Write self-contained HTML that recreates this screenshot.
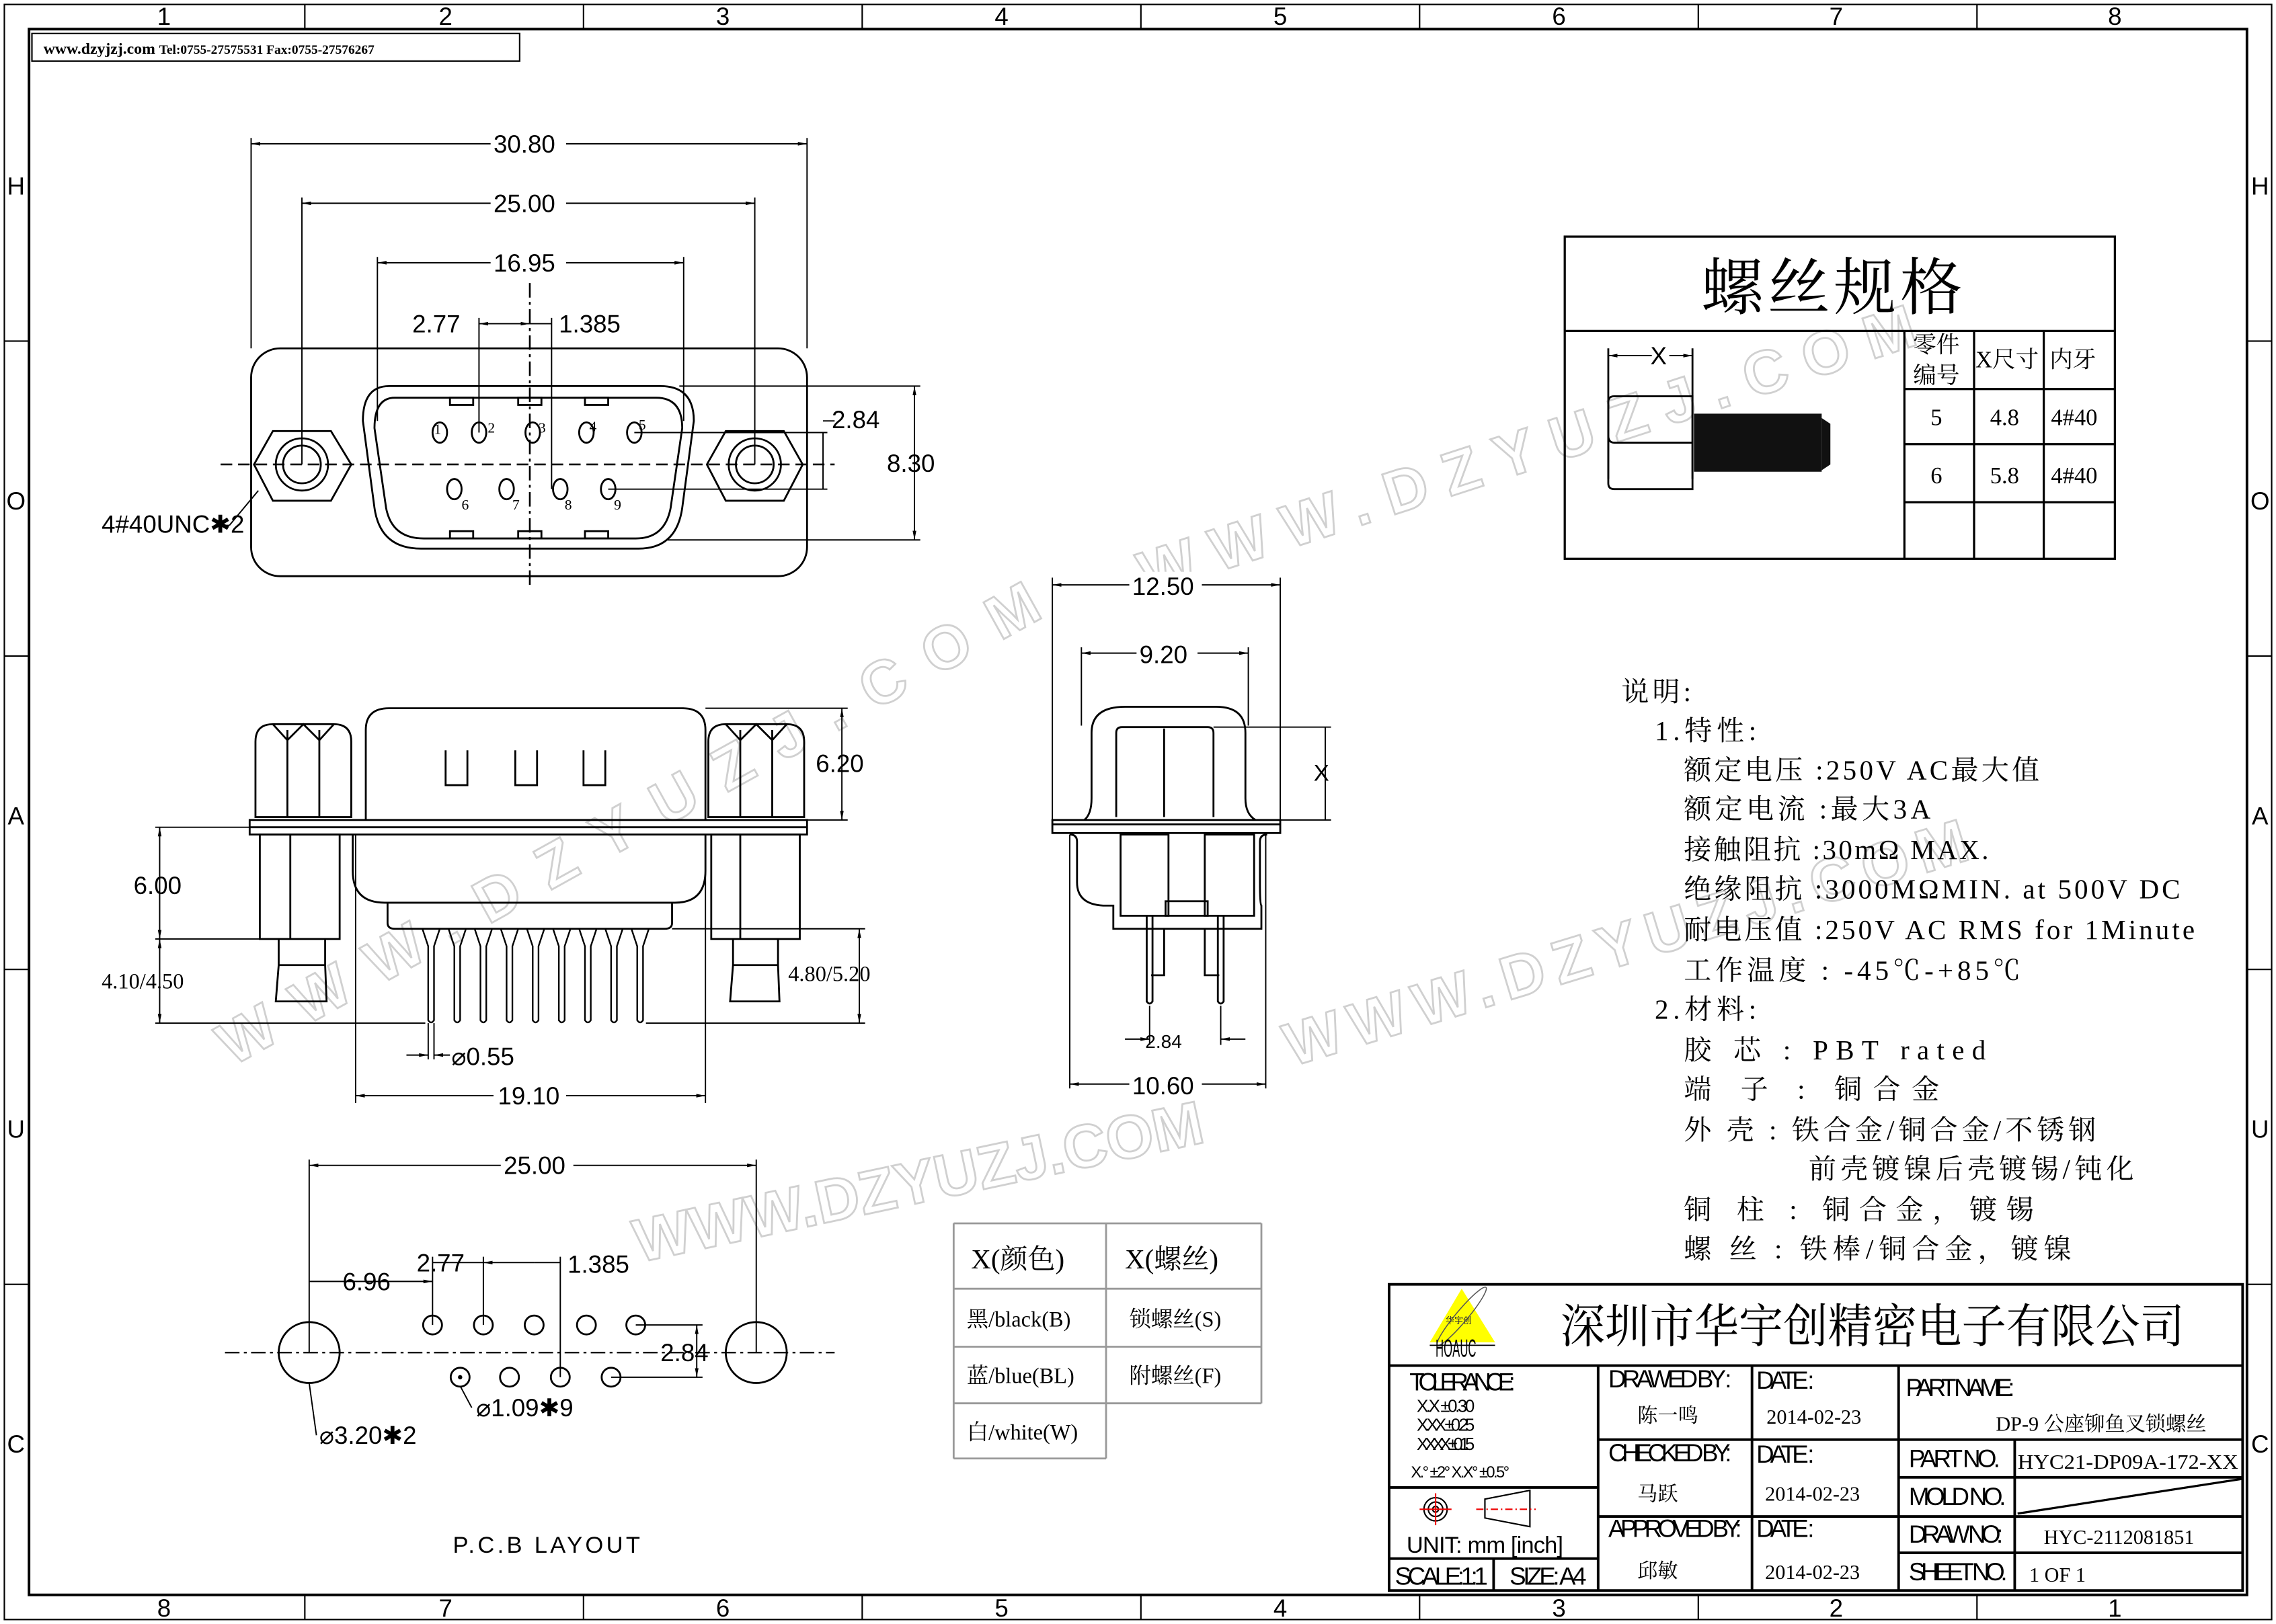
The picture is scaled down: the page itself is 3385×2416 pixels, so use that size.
<!DOCTYPE html>
<html><head><meta charset="utf-8"><style>
html,body{margin:0;padding:0;background:#fff}
svg{display:block}
.d{font-family:"Liberation Sans","DejaVu Sans",sans-serif;font-size:17px;fill:#000}
.s{font-family:"Liberation Serif","Noto Serif CJK SC",serif;fill:#000}
.c{font-family:"Liberation Serif","Noto Serif CJK SC",serif;fill:#000}
</style></head><body>
<svg width="3385" height="2416" viewBox="0 0 1568 1119" xmlns="http://www.w3.org/2000/svg">
<defs>
<marker id="a" viewBox="0 0 10 10" refX="10" refY="5" markerWidth="7" markerHeight="7" orient="auto-start-reverse"><path d="M0,3 L10,5 L0,7z" fill="#000"/></marker>
</defs>
<rect width="1568" height="1119" fill="#fff"/>
<!-- watermarks -->
<g font-family="Liberation Sans,sans-serif" font-size="42" font-weight="bold" fill="none" stroke="#d0d0d0" stroke-width="1.3" lengthAdjust="spacingAndGlyphs">
<text transform="translate(160,735) rotate(-29)" textLength="640">WWW.DZYUZJ.COM</text>
<text transform="translate(440,870) rotate(-12)" textLength="400">WWW.DZYUZJ.COM</text>
<text transform="translate(890,735) rotate(-17)" textLength="490">WWW.DZYUZJ.COM</text>
<text transform="translate(790,410) rotate(-18)" textLength="560">WWW.DZYUZJ.COM</text>
</g>
<!-- frame -->
<g fill="none" stroke="#000">
<rect x="3" y="3" width="1562" height="1113" stroke-width="1"/>
<rect x="20" y="20" width="1528" height="1079" stroke-width="1.8"/>
</g>
<g stroke="#000" stroke-width="1">
<line x1="210" y1="3" x2="210" y2="20"/><line x1="402" y1="3" x2="402" y2="20"/><line x1="594" y1="3" x2="594" y2="20"/><line x1="786" y1="3" x2="786" y2="20"/><line x1="978" y1="3" x2="978" y2="20"/><line x1="1170" y1="3" x2="1170" y2="20"/><line x1="1362" y1="3" x2="1362" y2="20"/>
<line x1="210" y1="1099" x2="210" y2="1116"/><line x1="402" y1="1099" x2="402" y2="1116"/><line x1="594" y1="1099" x2="594" y2="1116"/><line x1="786" y1="1099" x2="786" y2="1116"/><line x1="978" y1="1099" x2="978" y2="1116"/><line x1="1170" y1="1099" x2="1170" y2="1116"/><line x1="1362" y1="1099" x2="1362" y2="1116"/>
<line x1="3" y1="235" x2="20" y2="235"/><line x1="3" y1="452" x2="20" y2="452"/><line x1="3" y1="668" x2="20" y2="668"/><line x1="3" y1="885" x2="20" y2="885"/>
<line x1="1548" y1="235" x2="1565" y2="235"/><line x1="1548" y1="452" x2="1565" y2="452"/><line x1="1548" y1="668" x2="1565" y2="668"/><line x1="1548" y1="885" x2="1565" y2="885"/>
</g>
<g class="d" font-size="15" text-anchor="middle">
<text x="113" y="17">1</text><text x="307" y="17">2</text><text x="498" y="17">3</text><text x="690" y="17">4</text><text x="882" y="17">5</text><text x="1074" y="17">6</text><text x="1265" y="17">7</text><text x="1457" y="17">8</text>
<text x="113" y="1114">8</text><text x="307" y="1114">7</text><text x="498" y="1114">6</text><text x="690" y="1114">5</text><text x="882" y="1114">4</text><text x="1074" y="1114">3</text><text x="1265" y="1114">2</text><text x="1457" y="1114">1</text>
<text x="11" y="134">H</text><text x="11" y="351">O</text><text x="11" y="568">A</text><text x="11" y="784">U</text><text x="11" y="1001">C</text>
<text x="1557" y="134">H</text><text x="1557" y="351">O</text><text x="1557" y="568">A</text><text x="1557" y="784">U</text><text x="1557" y="1001">C</text>
</g>
<rect x="22" y="23" width="336" height="19" fill="none" stroke="#000"/>
<text class="s" x="30" y="37" font-size="11" font-weight="bold">www.dzyjzj.com <tspan font-size="9">Tel:0755-27575531  Fax:0755-27576267</tspan></text>

<!-- TOP VIEW -->
<g fill="none" stroke="#000" stroke-width="1.3">
<rect x="173" y="240" width="383" height="157" rx="20"/>
<path d="M268,266 L455,266 Q478,266 478,290 L470,350 Q466,378 440,378 L290,378 Q262,378 258,350 L250,290 Q250,266 268,266z"/>
<path d="M272,274 L452,274 Q470,274 470,295 L462,350 Q458,371 438,371 L292,371 Q270,371 266,350 L258,295 Q258,274 272,274z"/>
<polygon points="188,297 228,297 242,320 228,345 188,345 175,320"/>
<polygon points="500,297 540,297 553,320 540,345 500,345 487,320"/>
<circle cx="208" cy="320" r="18"/><circle cx="208" cy="320" r="13"/>
<circle cx="520" cy="320" r="18"/><circle cx="520" cy="320" r="13"/>
<ellipse cx="303" cy="298" rx="5" ry="7"/><ellipse cx="330" cy="298" rx="5" ry="7"/><ellipse cx="367" cy="298" rx="5" ry="7"/><ellipse cx="404" cy="298" rx="5" ry="7"/><ellipse cx="437" cy="298" rx="5" ry="7"/>
<ellipse cx="313" cy="337" rx="5" ry="7"/><ellipse cx="349" cy="337" rx="5" ry="7"/><ellipse cx="386" cy="337" rx="5" ry="7"/><ellipse cx="419" cy="337" rx="5" ry="7"/>
<rect x="310" y="274" width="16" height="5"/><rect x="357" y="274" width="16" height="5"/><rect x="403" y="274" width="16" height="5"/>
<rect x="310" y="366" width="16" height="5"/><rect x="357" y="366" width="16" height="5"/><rect x="403" y="366" width="16" height="5"/>
</g>
<g fill="none" stroke="#000" stroke-width="1.2" stroke-dasharray="8,4">
<line x1="152" y1="320" x2="575" y2="320"/>
<line x1="365" y1="195" x2="365" y2="405" stroke-dasharray="10,3,2,3"/>
</g>
<g stroke="#000" stroke-width="0.9" fill="none">
<line x1="173" y1="95" x2="173" y2="240"/><line x1="556" y1="95" x2="556" y2="240"/>
<line x1="173" y1="99" x2="556" y2="99" marker-start="url(#a)" marker-end="url(#a)"/>
<line x1="208" y1="136" x2="208" y2="320"/><line x1="520" y1="136" x2="520" y2="320"/>
<line x1="208" y1="140" x2="520" y2="140" marker-start="url(#a)" marker-end="url(#a)"/>
<line x1="260" y1="177" x2="260" y2="290"/><line x1="471" y1="177" x2="471" y2="290"/>
<line x1="260" y1="181" x2="471" y2="181" marker-start="url(#a)" marker-end="url(#a)"/>
<line x1="330" y1="219" x2="330" y2="298"/><line x1="380" y1="219" x2="380" y2="337"/>
<line x1="330" y1="223" x2="365" y2="223" marker-start="url(#a)" marker-end="url(#a)"/>
<line x1="365" y1="223" x2="380" y2="223"/>
<line x1="437" y1="298" x2="570" y2="298"/><line x1="419" y1="337" x2="570" y2="337"/>
<line x1="567" y1="298" x2="567" y2="337"/><line x1="567" y1="290" x2="575" y2="290"/>
<line x1="468" y1="266" x2="634" y2="266"/><line x1="460" y1="372" x2="634" y2="372"/>
<line x1="630" y1="266" x2="630" y2="372" marker-start="url(#a)" marker-end="url(#a)"/>
<line x1="178" y1="338" x2="158" y2="362"/><line x1="158" y1="362" x2="150" y2="362"/>
</g>
<g class="d">
<rect x="338" y="90" width="52" height="16" fill="#fff"/><text x="340" y="105">30.80</text>
<rect x="338" y="131" width="52" height="16" fill="#fff"/><text x="340" y="146">25.00</text>
<rect x="338" y="172" width="52" height="16" fill="#fff"/><text x="340" y="187">16.95</text>
<text x="284" y="229">2.77</text><text x="385" y="229">1.385</text>
<text x="573" y="295">2.84</text>
<text x="611" y="325">8.30</text>
<text x="70" y="367">4#40UNC✱2</text>
</g>
<g class="s" font-size="10"><text x="299" y="299">1</text><text x="336" y="298">2</text><text x="371" y="298">3</text><text x="406" y="297">4</text><text x="440" y="296">5</text>
<text x="318" y="351">6</text><text x="353" y="351">7</text><text x="389" y="351">8</text><text x="423" y="351">9</text></g>

<!-- SIDE VIEW -->
<g fill="none" stroke="#000" stroke-width="1.3">
<path d="M252,565 L252,503 Q252,488 268,488 L470,488 Q486,488 486,503 L486,565"/>
<path d="M176,563 L176,511 Q176,499 188,499 L230,499 Q242,499 242,511 L242,563z"/>
<line x1="198" y1="503" x2="198" y2="563"/><line x1="220" y1="503" x2="220" y2="563"/>
<path d="M188,499 L198,510 L209,499 L220,510 L230,499"/>
<path d="M488,563 L488,511 Q488,499 500,499 L542,499 Q554,499 554,511 L554,563z"/>
<line x1="510" y1="503" x2="510" y2="563"/><line x1="532" y1="503" x2="532" y2="563"/>
<path d="M500,499 L510,510 L521,499 L532,510 L542,499"/>
<path d="M307,517 L307,541 L322,541 L322,517 M355,517 L355,541 L370,541 L370,517 M402,517 L402,541 L417,541 L417,517"/>
<rect x="172" y="565" width="384" height="10"/><line x1="172" y1="570" x2="556" y2="570"/>
<rect x="179" y="575" width="55" height="72"/><line x1="200" y1="575" x2="200" y2="647"/>
<rect x="490" y="575" width="61" height="72"/><line x1="510" y1="575" x2="510" y2="647"/>
<path d="M243,575 L243,600 Q243,622 265,622 L465,622 Q486,622 486,600 L486,575"/>
<path d="M267,622 L267,636 Q267,640 272,640 L458,640 Q463,640 463,636 L463,622"/>
<path d="M192,647 L192,665 L190,690 L225,690 L224,665 L224,647 M192,665 L224,665"/>
<path d="M505,647 L505,665 L503,690 L537,690 L536,665 L536,647 M505,665 L536,665"/>
</g>
<g fill="none" stroke="#000" stroke-width="1.1">
<path d="M291,640 L295,652 L295,703 Q297,706 299,703 L299,652 L303,640 M309,640 L313,652 L313,703 Q315,706 317,703 L317,652 L321,640 M327,640 L331,652 L331,703 Q333,706 335,703 L335,652 L339,640 M345,640 L349,652 L349,703 Q351,706 353,703 L353,652 L357,640 M363,640 L367,652 L367,703 Q369,706 371,703 L371,652 L375,640 M381,640 L385,652 L385,703 Q387,706 389,703 L389,652 L393,640 M399,640 L403,652 L403,703 Q405,706 407,703 L407,652 L411,640 M417,640 L421,652 L421,703 Q423,706 425,703 L425,652 L429,640 M435,640 L439,652 L439,703 Q441,706 443,703 L443,652 L447,640"/>
</g>
<g stroke="#000" stroke-width="0.9" fill="none">
<line x1="107" y1="570" x2="179" y2="570"/><line x1="107" y1="647" x2="179" y2="647"/><line x1="107" y1="705" x2="293" y2="705"/>
<line x1="110" y1="570" x2="110" y2="647" marker-start="url(#a)" marker-end="url(#a)"/>
<line x1="110" y1="647" x2="110" y2="705" marker-start="url(#a)" marker-end="url(#a)"/>
<line x1="486" y1="488" x2="584" y2="488"/><line x1="556" y1="565" x2="584" y2="565"/>
<line x1="580" y1="488" x2="580" y2="565" marker-start="url(#a)" marker-end="url(#a)"/>
<line x1="463" y1="640" x2="596" y2="640"/><line x1="445" y1="705" x2="596" y2="705"/>
<line x1="592" y1="640" x2="592" y2="705" marker-start="url(#a)" marker-end="url(#a)"/>
<line x1="245" y1="575" x2="245" y2="760"/><line x1="486" y1="575" x2="486" y2="760"/>
<line x1="245" y1="755" x2="486" y2="755" marker-start="url(#a)" marker-end="url(#a)"/>
<line x1="295" y1="705" x2="295" y2="730"/><line x1="299" y1="705" x2="299" y2="730"/>
<line x1="280" y1="727" x2="295" y2="727" marker-end="url(#a)"/><line x1="310" y1="727" x2="299" y2="727" marker-end="url(#a)"/>
</g>
<g class="d">
<text x="562" y="532">6.20</text>
<text x="92" y="616">6.00</text>
<text x="311" y="734">⌀0.55</text>
<rect x="340" y="746" width="50" height="16" fill="#fff"/><text x="343" y="761">19.10</text>
</g>
<text class="s" x="70" y="681" font-size="15">4.10/4.50</text>
<text class="s" x="543" y="676" font-size="15">4.80/5.20</text>

<!-- MIDDLE SIDE VIEW -->
<g fill="none" stroke="#000" stroke-width="1.3">
<path d="M747,565 Q752,561 752,550 L752,505 Q752,487 775,487 L838,487 Q858,487 858,505 L858,550 Q858,561 865,565"/>
<path d="M769,563 L769,505 Q769,501 773,501 L832,501 Q836,501 836,505 L836,563 M802,502 L802,563"/>
<rect x="725" y="565" width="157" height="9"/><line x1="725" y1="568" x2="882" y2="568"/>
<path d="M737,575 Q742,575 742,580 L742,608 Q742,623 760,624 L767,624 L767,640 L869,640 L869,624 Q868,623 868,608 L868,580 Q868,575 873,575"/>
<rect x="772" y="575" width="33" height="56"/><rect x="830" y="575" width="34" height="56"/>
<rect x="803" y="621" width="29" height="10"/>
<path d="M790,631 L790,690 Q792,693 794,690 L794,631 M802,640 L802,672 L793,672 M839,631 L839,690 Q841,693 843,690 L843,631 M830,640 L830,672 L840,672"/>
</g>
<g stroke="#000" stroke-width="0.9" fill="none">
<line x1="725" y1="398" x2="725" y2="565"/><line x1="882" y1="398" x2="882" y2="565"/>
<line x1="725" y1="403" x2="882" y2="403" marker-start="url(#a)" marker-end="url(#a)"/>
<line x1="745" y1="446" x2="745" y2="500"/><line x1="860" y1="446" x2="860" y2="500"/>
<line x1="745" y1="450" x2="860" y2="450" marker-start="url(#a)" marker-end="url(#a)"/>
<line x1="836" y1="501" x2="917" y2="501"/><line x1="858" y1="565" x2="917" y2="565"/>
<line x1="913" y1="501" x2="913" y2="565"/>
<line x1="792" y1="693" x2="792" y2="720"/><line x1="841" y1="693" x2="841" y2="720"/>
<line x1="775" y1="716" x2="792" y2="716" marker-end="url(#a)"/><line x1="858" y1="716" x2="841" y2="716" marker-end="url(#a)"/>
<line x1="737" y1="575" x2="737" y2="750"/><line x1="872" y1="575" x2="872" y2="750"/>
<line x1="737" y1="747" x2="872" y2="747" marker-start="url(#a)" marker-end="url(#a)"/>
</g>
<g class="d">
<rect x="778" y="394" width="50" height="16" fill="#fff"/><text x="780" y="410">12.50</text>
<rect x="783" y="441" width="42" height="16" fill="#fff"/><text x="785" y="457">9.20</text>
<text x="789" y="722" font-size="13">2.84</text>
<rect x="778" y="738" width="50" height="16" fill="#fff"/><text x="780" y="754">10.60</text>
<text x="905" y="538" font-size="16">X</text>
</g>

<!-- PCB LAYOUT -->
<g fill="none" stroke="#000" stroke-width="1.3">
<circle cx="213" cy="932" r="21"/><circle cx="521" cy="932" r="21"/>
<circle cx="298" cy="913" r="6.5"/><circle cx="333" cy="913" r="6.5"/><circle cx="368" cy="913" r="6.5"/><circle cx="404" cy="913" r="6.5"/><circle cx="438" cy="913" r="6.5"/>
<circle cx="317" cy="949" r="6.5"/><circle cx="351" cy="949" r="6.5"/><circle cx="386" cy="949" r="6.5"/><circle cx="421" cy="949" r="6.5"/>
</g>
<circle cx="317" cy="949" r="1.5" fill="#000"/>
<line x1="155" y1="932" x2="575" y2="932" stroke="#000" stroke-width="1.1" stroke-dasharray="10,3,2,3"/>
<g stroke="#000" stroke-width="0.9" fill="none">
<line x1="213" y1="799" x2="213" y2="932"/><line x1="521" y1="799" x2="521" y2="932"/>
<line x1="213" y1="803" x2="521" y2="803" marker-start="url(#a)" marker-end="url(#a)"/>
<line x1="298" y1="866" x2="298" y2="913"/><line x1="333" y1="866" x2="333" y2="913"/><line x1="386" y1="866" x2="386" y2="949"/>
<line x1="213" y1="883" x2="298" y2="883" marker-end="url(#a)"/>
<line x1="333" y1="870" x2="368" y2="870" marker-start="url(#a)"/><line x1="368" y1="870" x2="386" y2="870"/>
<line x1="298" y1="870" x2="333" y2="870"/>
<line x1="438" y1="913" x2="484" y2="913"/><line x1="421" y1="949" x2="484" y2="949"/>
<line x1="480" y1="913" x2="480" y2="949" marker-start="url(#a)" marker-end="url(#a)"/>
<line x1="317" y1="955" x2="325" y2="970"/><line x1="213" y1="953" x2="218" y2="989"/>
</g>
<g class="d">
<rect x="345" y="794" width="50" height="16" fill="#fff"/><text x="347" y="809">25.00</text>
<text x="236" y="889">6.96</text>
<text x="287" y="876">2.77</text><text x="391" y="877">1.385</text>
<text x="455" y="938">2.84</text>
<text x="328" y="976">⌀1.09✱9</text>
<text x="220" y="995">⌀3.20✱2</text>
<text x="312" y="1070" font-size="16" letter-spacing="2">P.C.B LAYOUT</text>
</g>

<!-- SCREW TABLE -->
<g fill="none" stroke="#000" stroke-width="1.5">
<rect x="1078" y="163" width="379" height="222"/>
<line x1="1078" y1="228" x2="1457" y2="228"/>
<line x1="1312" y1="228" x2="1312" y2="385"/><line x1="1360" y1="228" x2="1360" y2="385"/><line x1="1408" y1="228" x2="1408" y2="385"/>
<line x1="1312" y1="268" x2="1457" y2="268"/><line x1="1312" y1="306" x2="1457" y2="306"/><line x1="1312" y1="346" x2="1457" y2="346"/>
</g>
<text class="c" x="1172" y="213" font-size="43" textLength="180">螺丝规格</text>
<g class="c" font-size="16">
<text x="1318" y="243">零件</text><text x="1318" y="264">编号</text>
<text x="1361" y="253">X尺寸</text><text x="1412" y="253">内牙</text>
<text x="1330" y="293">5</text><text x="1371" y="293">4.8</text><text x="1413" y="293">4#40</text>
<text x="1330" y="333">6</text><text x="1371" y="333">5.8</text><text x="1413" y="333">4#40</text>
</g>
<g fill="none" stroke="#000" stroke-width="1.3">
<line x1="1108" y1="240" x2="1108" y2="330"/><line x1="1166" y1="240" x2="1166" y2="330"/>
<line x1="1108" y1="245" x2="1166" y2="245" stroke-width="0.9" marker-start="url(#a)" marker-end="url(#a)"/>
<path d="M1112,273 L1166,273 L1166,337 L1112,337 Q1108,337 1108,333 L1108,277 Q1108,273 1112,273z"/>
<path d="M1166,305 L1112,305 Q1108,305 1108,300"/>
</g>
<rect x="1138" y="238" width="12" height="14" fill="#fff"/>
<text class="d" x="1137" y="251" font-size="16">X</text>
<rect x="1167" y="285" width="88" height="40" fill="#111"/>
<path d="M1255,288 L1261,292 L1261,320 L1255,324z" fill="#111"/>

<!-- NOTES -->
<g class="c" font-size="19" lengthAdjust="spacing">
<text x="1117" y="483" textLength="48">说明:</text>
<text x="1140" y="510" textLength="70">1.特性:</text>
<text x="1160" y="537" textLength="245">额定电压 :250V AC最大值</text>
<text x="1160" y="564" textLength="170">额定电流 :最大3A</text>
<text x="1160" y="592" textLength="210">接触阻抗 :30mΩ MAX.</text>
<text x="1160" y="619" textLength="342">绝缘阻抗 :3000MΩMIN. at 500V DC</text>
<text x="1160" y="647" textLength="352">耐电压值 :250V AC RMS for 1Minute</text>
<text x="1160" y="675" textLength="232">工作温度 : -45℃-+85℃</text>
<text x="1140" y="702" textLength="70">2.材料:</text>
<text x="1160" y="730" textLength="208">胶 芯 : PBT rated</text>
<text x="1160" y="757" textLength="176">端 子 : 铜合金</text>
<text x="1160" y="785" textLength="284">外 壳 : 铁合金/铜合金/不锈钢</text>
<text x="1246" y="812" textLength="224">前壳镀镍后壳镀锡/钝化</text>
<text x="1160" y="840" textLength="241">铜 柱 : 铜合金，镀锡</text>
<text x="1160" y="867" textLength="267">螺 丝 : 铁棒/铜合金，镀镍</text>
</g>

<!-- COLOR TABLE -->
<g fill="none" stroke="#999" stroke-width="1.3">
<line x1="657" y1="843" x2="869" y2="843"/><line x1="657" y1="888" x2="869" y2="888"/><line x1="657" y1="928" x2="869" y2="928"/><line x1="657" y1="967" x2="869" y2="967"/><line x1="657" y1="1005" x2="762" y2="1005"/>
<line x1="657" y1="843" x2="657" y2="1005"/><line x1="762" y1="843" x2="762" y2="1005"/><line x1="869" y1="843" x2="869" y2="967"/>
</g>
<g class="c" fill="#333">
<text x="669" y="874" font-size="19">X(颜色)</text><text x="775" y="874" font-size="19">X(螺丝)</text>
<text x="666" y="914" font-size="15">黑/black(B)</text><text x="778" y="914" font-size="15">锁螺丝(S)</text>
<text x="666" y="953" font-size="15">蓝/blue(BL)</text><text x="778" y="953" font-size="15">附螺丝(F)</text>
<text x="666" y="992" font-size="15">白/white(W)</text>
</g>

<!-- TITLE BLOCK -->
<g fill="none" stroke="#000" stroke-width="1.8">
<rect x="957" y="885" width="588" height="211"/>
<line x1="957" y1="941" x2="1545" y2="941"/>
<line x1="1101" y1="941" x2="1101" y2="1096"/><line x1="1207" y1="941" x2="1207" y2="1096"/><line x1="1308" y1="941" x2="1308" y2="1096"/>
<line x1="1388" y1="992" x2="1388" y2="1096"/>
<line x1="957" y1="1025" x2="1101" y2="1025"/><line x1="957" y1="1074" x2="1101" y2="1074"/><line x1="1029" y1="1074" x2="1029" y2="1096"/>
<line x1="1101" y1="992" x2="1308" y2="992"/><line x1="1101" y1="1045" x2="1308" y2="1045"/>
<line x1="1308" y1="992" x2="1545" y2="992"/><line x1="1308" y1="1018" x2="1545" y2="1018"/><line x1="1308" y1="1045" x2="1545" y2="1045"/><line x1="1308" y1="1070" x2="1545" y2="1070"/>
<line x1="1390" y1="1043" x2="1545" y2="1019" stroke-width="1.5"/>
</g>
<polygon points="1007,888 985,925 1030,925" fill="#ffff00"/>
<ellipse cx="1007" cy="907" rx="26" ry="4" transform="rotate(-50 1007 907)" fill="none" stroke="#555" stroke-width="0.7"/>
<text x="996" y="912" font-size="6" font-family="Noto Sans CJK SC,sans-serif" fill="#333">华宇创</text>
<line x1="985" y1="927" x2="1030" y2="927" stroke="#000" stroke-width="0.8"/>
<text class="d" x="989" y="935" font-size="8" textLength="28" lengthAdjust="spacingAndGlyphs">HOAUC</text>
<text class="c" x="1075" y="925" font-size="32" textLength="430" lengthAdjust="spacingAndGlyphs">深圳市华宇创精密电子有限公司</text>
<g class="d" font-size="15" lengthAdjust="spacingAndGlyphs">
<text x="971" y="958" textLength="73">TOLERANCE:</text>
<text x="976" y="973" font-size="12" textLength="40">X.X ±0.30</text>
<text x="976" y="986" font-size="12" textLength="40">X.XX ±0.25</text>
<text x="976" y="999" font-size="12" textLength="40">X.XXX ±0.15</text>
<text x="972" y="1018" font-size="11" textLength="68">X.° ±2° X.X° ±0.5°</text>
<text x="969" y="1070" font-size="16" textLength="108">UNIT: mm [inch]</text>
<text x="961" y="1092" textLength="64">SCALE:1:1</text><text x="1040" y="1092" textLength="53">SIZE: A4</text>
<text x="1108" y="956" textLength="85">DRAWED BY :</text><text x="1210" y="957" textLength="40">DATE :</text>
<text x="1108" y="1007" textLength="85">CHECKED BY:</text><text x="1210" y="1008" textLength="40">DATE :</text>
<text x="1108" y="1059" textLength="92">APPROVED BY:</text><text x="1210" y="1059" textLength="40">DATE :</text>
<text x="1313" y="962" textLength="75">PART NAME:</text>
<text x="1315" y="1011" textLength="63">PART NO.</text><text x="1315" y="1037" textLength="67">MOLD NO.</text>
<text x="1315" y="1063" textLength="65">DRAW NO:</text><text x="1315" y="1089" textLength="68">SHEET NO.</text>
</g>
<g fill="none" stroke="#000" stroke-width="1">
<circle cx="989" cy="1040" r="8"/><circle cx="989" cy="1040" r="5"/><circle cx="989" cy="1040" r="2"/>
<polygon points="1023,1033 1054,1027 1054,1052 1023,1046"/>
</g>
<g stroke="#e00" stroke-width="1"><line x1="978" y1="1040" x2="1000" y2="1040"/><line x1="989" y1="1029" x2="989" y2="1051"/><line x1="1017" y1="1040" x2="1058" y2="1040" stroke-dasharray="5,2,1,2"/></g>
<g class="c" font-size="14" fill="#333">
<text x="1128" y="980">陈一鸣</text><text x="1128" y="1034">马跃</text><text x="1128" y="1087">邱敏</text>
<text x="1217" y="981">2014-02-23</text><text x="1216" y="1034">2014-02-23</text><text x="1216" y="1088">2014-02-23</text>
<text x="1375" y="986">DP-9  公座铆鱼叉锁螺丝</text>
<text x="1390" y="1012" textLength="152" lengthAdjust="spacingAndGlyphs">HYC21-DP09A-172-XX</text>
<text x="1408" y="1064">HYC-2112081851</text>
<text x="1398" y="1090">1  OF  1</text>
</g>
</svg>
</body></html>
